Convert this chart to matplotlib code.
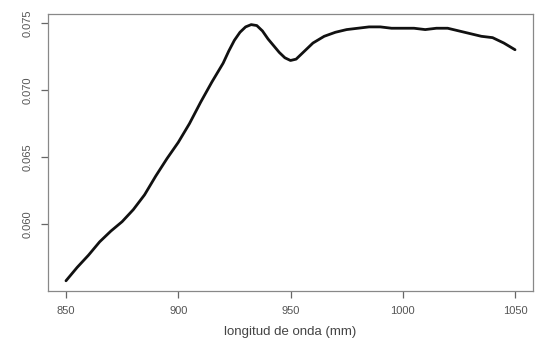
import matplotlib
matplotlib.use("Agg")
import matplotlib.pyplot as plt

wavelength = [850, 855, 860, 865, 870, 875, 880, 885, 890, 895, 900, 905, 910, 915, 920,
              922.5, 925, 927.5, 930, 932.5, 935, 937.5, 940, 942.5, 945, 947.5, 950,
              952.5, 955, 957.5, 960, 965, 970, 975, 980, 985, 990, 995,
              1000, 1005, 1010, 1015, 1020, 1025, 1030, 1035, 1040, 1045, 1050]
values = [0.0558, 0.0568, 0.0577, 0.0587, 0.0595, 0.0602, 0.0611, 0.0622, 0.0636, 0.0649,
          0.0661, 0.0675, 0.0691, 0.0706, 0.0720,
          0.0729, 0.0737, 0.0743, 0.0747, 0.07487, 0.0748, 0.0744, 0.0738, 0.0733, 0.0728,
          0.0724, 0.0722, 0.0723, 0.0727, 0.0731, 0.0735, 0.0740, 0.0743, 0.0745, 0.0746,
          0.0747, 0.0747, 0.0746, 0.0746, 0.0746, 0.0745, 0.0746, 0.0746, 0.0744, 0.0742,
          0.0740, 0.0739, 0.0735, 0.0730]
xticks = [850, 900, 950, 1000, 1050]
yticks = [0.060, 0.065, 0.070, 0.075]
ytick_labels = ["0.060", "0.065", "0.070", "0.075"]
xlabel = "longitud de onda (mm)"

plt.rcParams['font.family'] = ['Liberation Sans', 'DejaVu Sans']
fig = plt.figure(figsize=(5.41, 3.49), dpi=100)
ax = fig.add_axes([48/541, 1-291/349, (533-48)/541, (291-14)/349])
ax.plot(wavelength, values, color='#111111', lw=2.0, solid_joinstyle='round',
        solid_capstyle='round')
ax.set_xlim(842, 1058)
ax.set_ylim(0.05504, 0.07566)
ax.set_xticks(xticks)
ax.set_xticklabels([str(t) for t in xticks])
ax.set_yticks(yticks)
ax.set_yticklabels(ytick_labels, rotation=90, va='center')
for s in ax.spines.values():
    s.set_color('#888888')
    s.set_linewidth(0.9)
ax.tick_params(axis='both', colors='#666666', labelcolor='#555555', labelsize=8,
               length=5, width=0.9, direction='out', pad=6)
ax.set_xlabel(xlabel, color='#444444', fontsize=9.5, labelpad=7)
fig.savefig("out.png", dpi=100)
